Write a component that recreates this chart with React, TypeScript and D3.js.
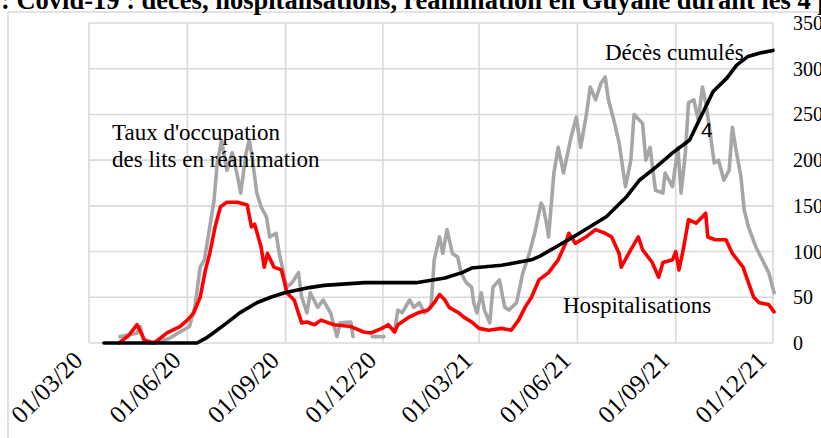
import React from 'react';
import * as d3 from 'd3';

// Covid-19 en Guyane : réanimation (gris), hospitalisations (rouge), décès cumulés (noir)
const tickDates = ['2020-03-01', '2020-06-01', '2020-09-01', '2020-12-01', '2021-03-01', '2021-06-01', '2021-09-01', '2021-12-01'];
const yTicks = [0, 50, 100, 150, 200, 250, 300, 350];

const reanimation: [string, number | null][] = [
  ['2020-03-30', 7], ['2020-04-08', 9], ['2020-04-15', 11], ['2020-04-18', 18], ['2020-04-21', 3], ['2020-04-26', 0],
  ['2020-05-05', 2], ['2020-05-15', 5], ['2020-05-25', 12], ['2020-06-03', 18], ['2020-06-08', 39], ['2020-06-13', 83],
  ['2020-06-17', 91], ['2020-06-22', 127], ['2020-06-26', 156], ['2020-06-29', 197], ['2020-07-03', 222], ['2020-07-08', 189],
  ['2020-07-13', 208], ['2020-07-18', 182], ['2020-07-21', 164], ['2020-07-26', 208], ['2020-07-29', 222], ['2020-08-01', 200],
  ['2020-08-05', 164], ['2020-08-09', 149], ['2020-08-14', 138], ['2020-08-17', 116], ['2020-08-23', 120], ['2020-08-26', 98],
  ['2020-09-02', 61], ['2020-09-07', 66], ['2020-09-13', 77], ['2020-09-16', 50], ['2020-09-21', 33], ['2020-09-24', 55],
  ['2020-10-01', 39], ['2020-10-06', 47], ['2020-10-13', 33], ['2020-10-19', 7], ['2020-10-22', 22], ['2020-11-01', 23],
  ['2020-11-03', 7], ['2020-11-10', null], ['2020-11-21', 7], ['2020-12-02', 7], ['2020-12-06', null], ['2020-12-12', 14],
  ['2020-12-15', 36], ['2020-12-19', 33], ['2020-12-26', 47], ['2020-12-30', 39], ['2021-01-04', 44], ['2021-01-09', 33],
  ['2021-01-15', 39], ['2021-01-18', 91], ['2021-01-23', 116], ['2021-01-26', 98], ['2021-01-30', 124], ['2021-02-04', 98],
  ['2021-02-09', 94], ['2021-02-12', 77], ['2021-02-17', 66], ['2021-02-22', 61], ['2021-02-24', 44], ['2021-02-27', 33],
  ['2021-03-03', 55], ['2021-03-06', 36], ['2021-03-11', 22], ['2021-03-14', 61], ['2021-03-20', 69], ['2021-03-25', 39],
  ['2021-03-29', 36], ['2021-04-05', 44], ['2021-04-11', 77], ['2021-04-17', 98], ['2021-04-22', 120], ['2021-04-28', 153],
  ['2021-04-30', 149], ['2021-05-03', 131], ['2021-05-05', 116], ['2021-05-10', 186], ['2021-05-14', 214], ['2021-05-19', 186],
  ['2021-05-26', 225], ['2021-05-31', 247], ['2021-06-04', 214], ['2021-06-09', 247], ['2021-06-13', 280], ['2021-06-18', 266],
  ['2021-06-23', 284], ['2021-06-27', 291], ['2021-06-30', 266], ['2021-07-05', 244], ['2021-07-10', 219], ['2021-07-16', 171],
  ['2021-07-21', 200], ['2021-07-24', 250], ['2021-08-01', 240], ['2021-08-04', 200], ['2021-08-08', 214], ['2021-08-13', 167],
  ['2021-08-20', 164], ['2021-08-22', 186], ['2021-08-29', 171], ['2021-09-03', 214], ['2021-09-06', 164], ['2021-09-10', 208],
  ['2021-09-13', 263], ['2021-09-18', 266], ['2021-09-22', 244], ['2021-09-26', 280], ['2021-09-29', 263], ['2021-10-02', 240],
  ['2021-10-07', 197], ['2021-10-11', 200], ['2021-10-16', 178], ['2021-10-21', 189], ['2021-10-24', 236], ['2021-10-27', 214],
  ['2021-11-01', 182], ['2021-11-04', 146], ['2021-11-08', 127], ['2021-11-15', 105], ['2021-11-21', 91], ['2021-11-27', 77],
  ['2021-12-02', 55],
];

const hospitalisations: [string, number][] = [
  ['2020-03-29', 0], ['2020-04-07', 8], ['2020-04-15', 20], ['2020-04-22', 3], ['2020-05-01', 0], ['2020-05-13', 11],
  ['2020-05-25', 18], ['2020-06-01', 25], ['2020-06-07', 33], ['2020-06-13', 50], ['2020-06-18', 80], ['2020-06-22', 98],
  ['2020-06-27', 127], ['2020-07-02', 149], ['2020-07-08', 154], ['2020-07-18', 154], ['2020-07-27', 151], ['2020-07-31', 127],
  ['2020-08-03', 130], ['2020-08-09', 105], ['2020-08-12', 83], ['2020-08-15', 98], ['2020-08-21', 83], ['2020-08-28', 80],
  ['2020-08-31', 66], ['2020-09-02', 55], ['2020-09-09', 47], ['2020-09-16', 22], ['2020-09-21', 23], ['2020-09-28', 20],
  ['2020-10-04', 25], ['2020-10-16', 20], ['2020-11-01', 18], ['2020-11-13', 12], ['2020-11-20', 11], ['2020-11-30', 16],
  ['2020-12-06', 20], ['2020-12-12', 12], ['2020-12-15', 20], ['2020-12-25', 28], ['2021-01-03', 33], ['2021-01-12', 36],
  ['2021-01-18', 44], ['2021-01-23', 53], ['2021-01-28', 47], ['2021-02-01', 39], ['2021-02-10', 33], ['2021-02-15', 28],
  ['2021-02-22', 23], ['2021-03-01', 16], ['2021-03-10', 14], ['2021-03-22', 16], ['2021-03-31', 14], ['2021-04-07', 25],
  ['2021-04-13', 39], ['2021-04-19', 50], ['2021-04-26', 69], ['2021-05-05', 77], ['2021-05-14', 91], ['2021-05-21', 109],
  ['2021-05-24', 120], ['2021-05-30', 109], ['2021-06-09', 116], ['2021-06-18', 124], ['2021-06-27', 120], ['2021-07-03', 116],
  ['2021-07-10', 98], ['2021-07-12', 83], ['2021-07-19', 98], ['2021-07-28', 116], ['2021-08-01', 102], ['2021-08-10', 88],
  ['2021-08-16', 72], ['2021-08-20', 88], ['2021-08-29', 91], ['2021-09-01', 100], ['2021-09-04', 80], ['2021-09-08', 102],
  ['2021-09-13', 135], ['2021-09-20', 131], ['2021-09-26', 138], ['2021-09-29', 142], ['2021-10-01', 116], ['2021-10-08', 113],
  ['2021-10-18', 113], ['2021-10-24', 98], ['2021-11-03', 83], ['2021-11-08', 66], ['2021-11-13', 50], ['2021-11-18', 44],
  ['2021-11-27', 42], ['2021-12-02', 34],
];

const decesCumules: [string, number][] = [
  ['2020-03-15', 0], ['2020-06-10', 0], ['2020-06-18', 5], ['2020-06-23', 9], ['2020-07-08', 22], ['2020-07-20', 33],
  ['2020-08-05', 44], ['2020-08-18', 50], ['2020-08-31', 55], ['2020-09-20', 60], ['2020-10-07', 63], ['2020-11-14', 66],
  ['2021-01-01', 66], ['2021-01-28', 71], ['2021-02-13', 77], ['2021-02-22', 82], ['2021-03-22', 85], ['2021-04-19', 91],
  ['2021-04-27', 95], ['2021-05-28', 116], ['2021-06-28', 138], ['2021-07-17', 160], ['2021-07-29', 178], ['2021-08-14', 193],
  ['2021-08-29', 208], ['2021-09-14', 222], ['2021-09-23', 244], ['2021-10-06', 275], ['2021-10-19', 290], ['2021-10-28', 304],
  ['2021-11-07', 313], ['2021-11-18', 317], ['2021-12-01', 320],
];

const W = 821;
const H = 438;
const left = 89, right = 773, top = 23, bottom = 343;
const serif = '"Liberation Serif", "Times New Roman", serif';
const grid = '#d9d9d9';

const parse = d3.timeParse('%Y-%m-%d');

export default function App() {
  const x = d3.scaleTime()
    .domain([parse('2020-03-01')!, parse('2021-12-01')!])
    .range([left, right]);
  const y = d3.scaleLinear().domain([0, 350]).range([bottom, top]);

  const line = d3.line<[string, number | null]>()
    .defined(d => d[1] !== null)
    .x(d => x(parse(d[0])!))
    .y(d => y(d[1] as number));

  const series = [
    { data: reanimation, color: '#a6a6a6' },
    { data: hospitalisations, color: '#ff0000' },
    { data: decesCumules, color: '#000000' },
  ];

  return (
    <svg width={W} height={H} style={{ position: 'absolute', left: 0, top: 0, background: '#fff' }}>
      {/* cadre extérieur */}
      <line x1={8} x2={W} y1={12} y2={12} stroke={grid} strokeWidth={1.5} />
      <line x1={8} x2={8} y1={12} y2={H} stroke={grid} strokeWidth={1.5} />

      <text x={1} y={9} fontFamily={serif} fontWeight="bold" fontSize={26.5} fill="#000">
        : Covid-19 : décès, hospitalisations, réanimation en Guyane durant les 4 premières vagues
      </text>

      {/* grille */}
      {yTicks.map(t => (
        <line key={'h' + t} x1={left} x2={right} y1={y(t)} y2={y(t)} stroke={grid} strokeWidth={1.6} />
      ))}
      {tickDates.map(t => (
        <line key={'v' + t} x1={x(parse(t)!)} x2={x(parse(t)!)} y1={top} y2={bottom} stroke={grid} strokeWidth={1.6} />
      ))}

      {series.map((s, i) => (
        <path key={i} d={line(s.data as [string, number | null][]) || ''} fill="none" stroke={s.color}
          strokeWidth={3.6} strokeLinejoin="round" strokeLinecap="round" />
      ))}

      {/* axe de droite */}
      {yTicks.map(t => (
        <text key={'yl' + t} x={793} y={y(t)} dy="0.35em" fontFamily={serif} fontSize={20} fill="#000">{t}</text>
      ))}

      {/* dates */}
      {tickDates.map(t => {
        const px = x(parse(t)!);
        return (
          <text key={'xl' + t} transform={`translate(${px - 5},${362}) rotate(-45)`} textAnchor="end"
            fontFamily={serif} fontSize={25} fill="#000">
            {d3.timeFormat('%d/%m/%y')(parse(t)!)}
          </text>
        );
      })}

      {/* annotations */}
      <text x={112} y={140} fontFamily={serif} fontSize={23} fill="#000">Taux d'occupation</text>
      <text x={112} y={167} fontFamily={serif} fontSize={23} fill="#000">des lits en réanimation</text>
      <text x={605} y={60} fontFamily={serif} fontSize={23} fill="#000">Décès cumulés</text>
      <text x={563} y={313} fontFamily={serif} fontSize={23} fill="#000">Hospitalisations</text>
      <text x={701} y={137} fontFamily='"Liberation Sans", Arial, sans-serif' fontSize={21} fill="#000">4</text>
    </svg>
  );
}
